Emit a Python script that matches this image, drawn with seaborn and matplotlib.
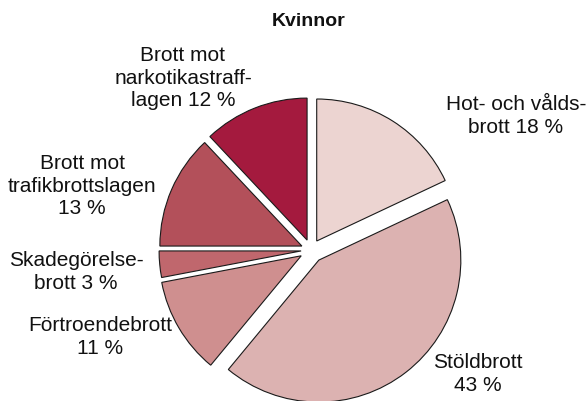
import matplotlib
matplotlib.use("Agg")
import matplotlib.pyplot as plt
import seaborn as sns

sns.set_theme(style="white")
plt.rcParams['font.family'] = ['Liberation Sans', 'DejaVu Sans']

# Data (clockwise from top)
categories = ["Hot- och våldsbrott", "Stöldbrott", "Förtroendebrott",
              "Skadegörelsebrott", "Brott mot trafikbrottslagen",
              "Brott mot narkotikastrafflagen"]
shares = [18, 43, 11, 3, 13, 12]
labels = ["Hot- och vålds-\nbrott 18 %", "Stöldbrott\n43 %", "Förtroendebrott\n11 %",
          "Skadegörelse-\nbrott 3 %", "Brott mot\ntrafikbrottslagen\n13 %",
          "Brott mot\nnarkotikastraff-\nlagen 12 %"]
colors = ["#ecd4d1", "#dcb2b1", "#cf8f8f", "#c0676d", "#b3505a", "#a41a3e"]
explode = [0.075, 0.09, 0.08, 0.07, 0.07, 0.075]
title = "Kvinnor"

W, H = 587, 401
fig = plt.figure(figsize=(W / 100, H / 100), dpi=100)
fig.patch.set_facecolor("white")

cx, cy, R = 311, 250, 142
lim = 1.3
size = 2 * lim * R
ax = fig.add_axes([(cx - size / 2) / W, ((H - cy) - size / 2) / H, size / W, size / H])
ax.pie(shares, colors=colors, explode=explode, startangle=90, counterclock=False,
       wedgeprops=dict(edgecolor="#1a1a1a", linewidth=0.8))
ax.set_xlim(-lim, lim)
ax.set_ylim(-lim, lim)
ax.set_aspect("equal")
ax.axis("off")

# label positions in pixels (center x, center y of block)
label_pos = [(516, 116), (478, 374), (100, 337), (76, 272), (82, 186), (183, 78)]
for lab, (x, y) in zip(labels, label_pos):
    fig.text(x / W, 1 - y / H, lab, ha="center", va="center", fontsize=15,
             linespacing=1.22, color="#111111")

fig.text(309 / W, 1 - 22 / H, title, ha="center", va="center", fontsize=14,
         fontweight="bold", color="#111111")

fig.savefig("out.png", dpi=100, facecolor="white")
